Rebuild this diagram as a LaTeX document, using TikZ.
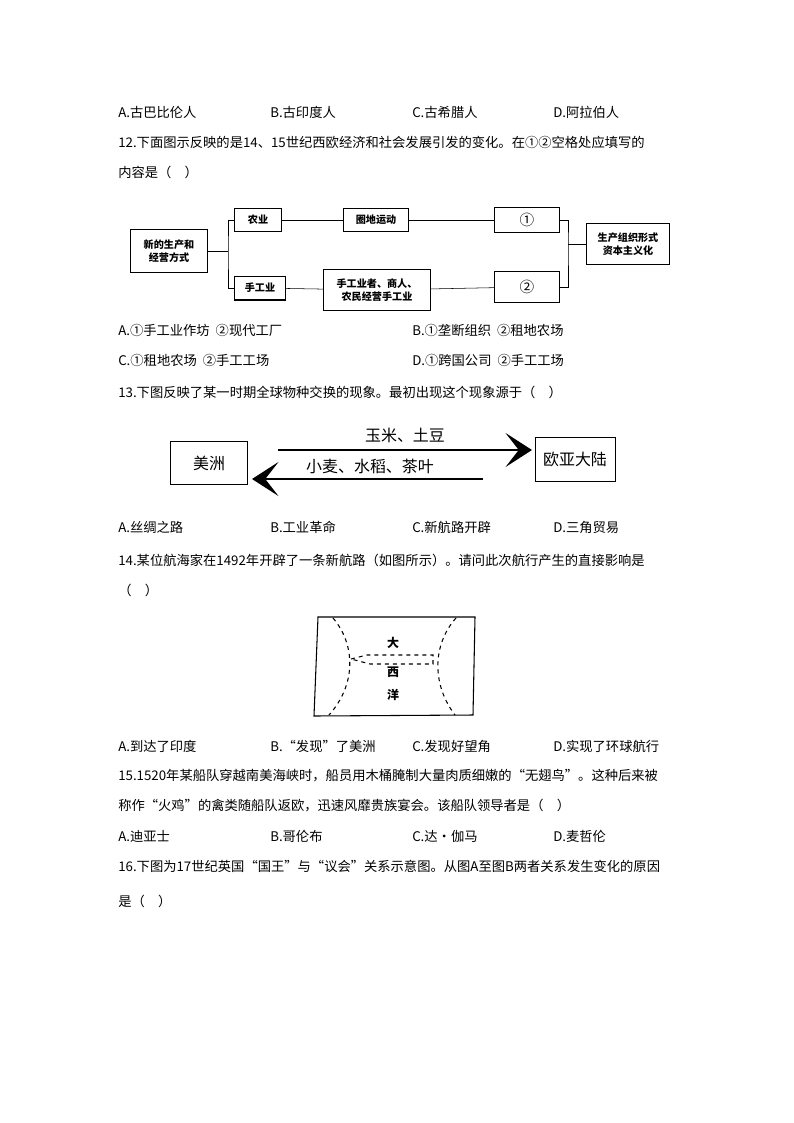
\documentclass[tikz,border=0pt]{standalone}
\usepackage{fontspec}
\setmainfont{Noto Sans CJK SC}
\usetikzlibrary{arrows.meta}
\tikzset{
  txt/.style={anchor=west, font=\fontsize{10}{12}\selectfont, inner sep=0pt},
  fbox/.style={draw, thick, inner sep=0pt, font=\fontsize{7.6}{9.5}\selectfont\bfseries, align=center},
  bigbox/.style={draw, inner sep=0pt, font=\fontsize{12}{14}\selectfont},
  bigarrow/.style={line width=1.1pt, -{Stealth[length=7mm,width=9mm,inset=3.5mm]}}
}
\begin{document}
\begin{tikzpicture}[x=0.02645cm,y=-0.02645cm]
    \useasboundingbox (0,0) rectangle (794,1123);

    % question text
    \node[txt] (a11) at (118,112) {A.古巴比伦人};
    \node[txt] (b11) at (270,112) {B.古印度人};
    \node[txt] (c11) at (412,112) {C.古希腊人};
    \node[txt] (d11) at (553,112) {D.阿拉伯人};
    \node[txt] (q12a) at (118,142) {12.下面图示反映的是14、15世纪西欧经济和社会发展引发的变化。在①②空格处应填写的};
    \node[txt] (q12b) at (118,172) {内容是（\quad ）};

    % flowchart of question 12
    \node[fbox, minimum width=58pt, minimum height=33pt] (new) at (169,251) {新的生产和\\经营方式};
    \node[fbox, minimum width=35pt, minimum height=17pt] (farm) at (258,220) {农业};
    \node[fbox, minimum width=49pt, minimum height=17pt] (encl) at (376,220) {圈地运动};
    \node[fbox, minimum width=49pt, minimum height=19pt, font=\fontsize{11}{12}\selectfont] (one) at (527,220) {①};
    \node[fbox, minimum width=63pt, minimum height=31pt] (cap) at (628,244) {生产组织形式\\资本主义化};
    \node[fbox, minimum width=38pt, minimum height=18pt] (craft) at (260,288) {手工业};
    \node[fbox, minimum width=80pt, minimum height=31pt] (who) at (377,290) {手工业者、商人、\\农民经营手工业};
    \node[fbox, minimum width=49pt, minimum height=24pt, font=\fontsize{11}{12}\selectfont] (two) at (527,287) {②};
    \draw (new.east) -- (228,251);
    \draw (farm.west) -| (228,251) |- (craft.west);
    \draw (farm) -- (encl) -- (one);
    \draw (craft) -- (who) -- (two);
    \draw (one.east) -| (568,244) |- (two.east);
    \draw (568,244) -- (cap.west);

    \node[txt] (a12) at (118,330) {A.①手工业作坊 \ ②现代工厂};
    \node[txt] (b12) at (412,330) {B.①垄断组织 \ ②租地农场};
    \node[txt] (c12) at (118,360) {C.①租地农场 \ ②手工工场};
    \node[txt] (d12) at (412,360) {D.①跨国公司 \ ②手工工场};
    \node[txt] (q13) at (118,392) {13.下图反映了某一时期全球物种交换的现象。最初出现这个现象源于（\quad ）};

    % species exchange of question 13
    \node[bigbox, minimum width=58pt, minimum height=32pt] (amer) at (209,463) {美洲};
    \node[bigbox, minimum width=60pt, minimum height=33pt] (eura) at (575,459) {欧亚大陆};
    \coordinate (u0) at (278,450);
    \coordinate (u1) at (532,450);
    \coordinate (l0) at (483,479);
    \coordinate (l1) at (252,479);
    \draw[bigarrow] (u0) -- (u1);
    \draw[bigarrow] (l0) -- (l1);
    \node[font=\fontsize{12}{14}\selectfont] (up) at (405,435) {玉米、土豆};
    \node[font=\fontsize{12}{14}\selectfont] (down) at (370,466) {小麦、水稻、茶叶};

    \node[txt] (a13) at (118,527) {A.丝绸之路};
    \node[txt] (b13) at (270,527) {B.工业革命};
    \node[txt] (c13) at (412,527) {C.新航路开辟};
    \node[txt] (d13) at (553,527) {D.三角贸易};
    \node[txt] (q14a) at (118,560) {14.某位航海家在1492年开辟了一条新航路（如图所示）。请问此次航行产生的直接影响是};
    \node[txt] (q14b) at (118,590) {（\quad ）};

    % map of question 14
    \draw[thick] (318,617) -- (475,617) -- (473,715) -- (314,716) -- cycle;
    \draw[thick, dashed] (333,618) .. controls (356,645) and (356,685) .. (329,715);
    \draw[thick, dashed] (456,618) .. controls (432,645) and (432,685) .. (455,715);
    \draw[thick, dashed] (351,659) -- (367,655) -- (433,655) -- (433,664) -- (370,664) -- cycle;
    \node[font=\fontsize{9}{10}\selectfont\bfseries] (da) at (393,643) {大};
    \node[font=\fontsize{9}{10}\selectfont\bfseries] (xi) at (393,672) {西};
    \node[font=\fontsize{9}{10}\selectfont\bfseries] (yang) at (393,695) {洋};

    \node[txt] (a14) at (118,746) {A.到达了印度};
    \node[txt] (b14) at (270,746) {B.“发现”了美洲};
    \node[txt] (c14) at (412,746) {C.发现好望角};
    \node[txt] (d14) at (553,746) {D.实现了环球航行};
    \node[txt] (q15a) at (118,776) {15.1520年某船队穿越南美海峡时，船员用木桶腌制大量肉质细嫩的“无翅鸟”。这种后来被};
    \node[txt] (q15b) at (118,806) {称作“火鸡”的禽类随船队返欧，迅速风靡贵族宴会。该船队领导者是（\quad ）};
    \node[txt] (a15) at (118,836) {A.迪亚士};
    \node[txt] (b15) at (270,836) {B.哥伦布};
    \node[txt] (c15) at (412,836) {C.达·伽马};
    \node[txt] (d15) at (553,836) {D.麦哲伦};
    \node[txt] (q16a) at (118,866) {16.下图为17世纪英国“国王”与“议会”关系示意图。从图A至图B两者关系发生变化的原因};
    \node[txt] (q16b) at (118,901) {是（\quad ）};

\end{tikzpicture}
\end{document}
